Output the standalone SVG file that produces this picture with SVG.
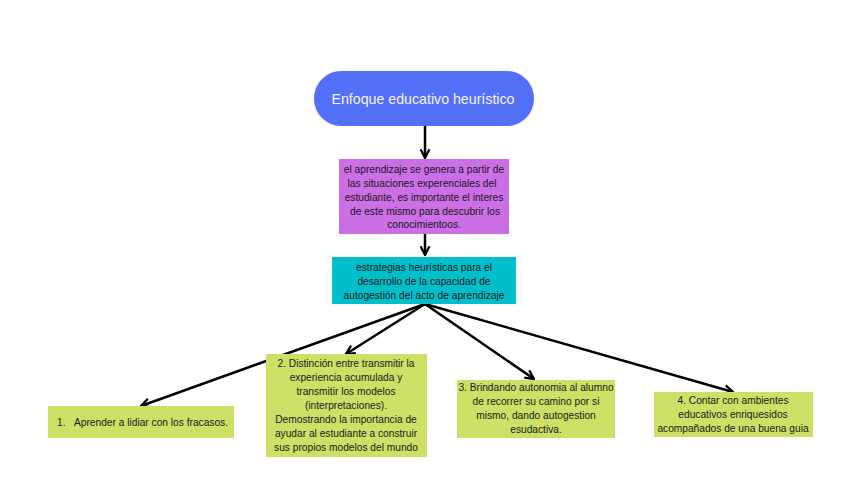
<svg xmlns="http://www.w3.org/2000/svg" width="848" height="477" viewBox="0 0 848 477">
<defs>
<marker id="ah" viewBox="0 0 10 10" refX="9" refY="5" markerWidth="4.4" markerHeight="4.4" orient="auto" markerUnits="strokeWidth">
<path d="M1,1 L9,5 L1,9" fill="none" stroke="#000" stroke-width="2"/>
</marker>
<style>
.t{font-family:"Liberation Sans",Arial,sans-serif;font-size:10.2px;fill:#1a1a1a;text-anchor:middle}
.g{fill:#CCE066}
.c{stroke:#000;stroke-width:2.5;fill:none;marker-end:url(#ah)}
</style>
</defs>
<rect width="848" height="477" fill="#fff"/>
<g id="connectors">
<line class="c" x1="425" y1="126" x2="425" y2="158"/>
<line class="c" x1="425" y1="234" x2="425" y2="255"/>
<line class="c" x1="425" y1="304" x2="141" y2="406"/>
<line class="c" x1="425" y1="304" x2="346" y2="354"/>
<line class="c" x1="425" y1="304" x2="534" y2="379"/>
<line class="c" x1="425" y1="304" x2="733" y2="392"/>
</g>
<g id="title">
<rect x="314" y="71" width="220" height="55" rx="27" fill="#5470F8"/>
<text x="423" y="104" style="font-family:'Liberation Sans',Arial,sans-serif;font-size:14.2px;fill:#f4f4ff;text-anchor:middle">Enfoque educativo heurístico</text>
</g>
<g id="purple">
<rect x="339" y="159" width="170" height="75" fill="#CC6EE6"/>
<text class="t"><tspan x="424" y="173">el aprendizaje  se genera a partir de</tspan><tspan x="422" y="187">las situaciones experenciales del</tspan><tspan x="424" y="201">estudiante, es importante el interes</tspan><tspan x="425" y="215">de este mismo para descubrir los</tspan><tspan x="424" y="228">conocimientoos.</tspan></text>
</g>
<g id="teal">
<rect x="332" y="257" width="184" height="47" fill="#00BFCB"/>
<text class="t"><tspan x="424" y="271">estrategias heurísticas para el</tspan><tspan x="424" y="285">desarrollo de la capacidad de</tspan><tspan x="424" y="299">autogestión del acto de aprendizaje</tspan></text>
</g>
<g id="n1">
<rect class="g" x="48" y="406" width="186" height="32"/>
<text class="t" y="426"><tspan x="57" style="text-anchor:start">1.</tspan><tspan x="74" style="text-anchor:start">Aprender a lidiar con los fracasos.</tspan></text>
</g>
<g id="n2">
<rect class="g" x="266" y="354" width="161" height="103"/>
<text class="t"><tspan x="346" y="367">2. Distinción entre transmitir la</tspan><tspan x="346" y="381">experiencia acumulada y</tspan><tspan x="346" y="395">transmitir los modelos</tspan><tspan x="346" y="409">(interpretaciones).</tspan><tspan x="346" y="423">Demostrando la importancia de</tspan><tspan x="346" y="437">ayudar al estudiante a construir</tspan><tspan x="346" y="451">sus propios modelos del mundo</tspan></text>
</g>
<g id="n3">
<rect class="g" x="457" y="380" width="158" height="58"/>
<text class="t"><tspan x="536" y="391">3. Brindando autonomia al alumno</tspan><tspan x="536" y="405">de recorrer su camino por si</tspan><tspan x="536" y="419">mismo, dando autogestion</tspan><tspan x="536" y="433">esudactiva.</tspan></text>
</g>
<g id="n4">
<rect class="g" x="654" y="392" width="159" height="45"/>
<text class="t"><tspan x="733" y="404">4. Contar con ambientes</tspan><tspan x="733" y="418">educativos enriquesidos</tspan><tspan x="733" y="432">acompañados de una buena guia</tspan></text>
</g>
</svg>
